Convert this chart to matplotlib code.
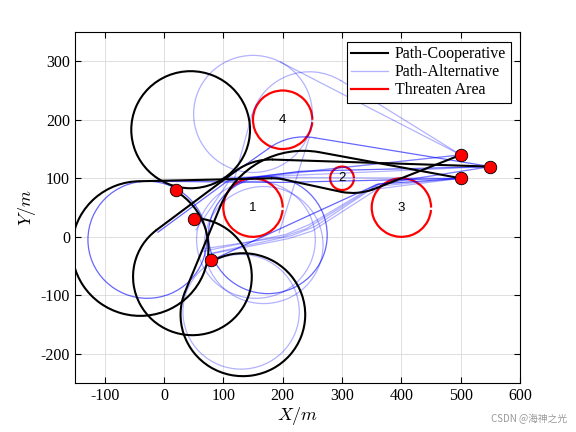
import numpy as np
import matplotlib
matplotlib.use("Agg")
import matplotlib.pyplot as plt
from matplotlib.patches import Arc
from matplotlib.lines import Line2D

plt.rcParams['font.family'] = ['Liberation Serif', 'DejaVu Serif']
plt.rcParams['mathtext.fontset'] = 'cm'
plt.rcParams['axes.unicode_minus'] = False

# threat areas
threat_x = [150, 300, 400, 200]
threat_y = [50, 100, 50, 200]
threat_r = [50, 20, 50, 50]
threat_id = ['1', '2', '3', '4']

# start / goal points
start_x = [20, 50, 80]
start_y = [80, 30, -40]
goal_x = [500, 550, 500]
goal_y = [140, 120, 100]

# cooperative paths: arcs (cx, cy, r, theta1, theta2) and lines (x0, y0, x1, y1)
coop_arcs = [
    (45, 183, 100, 0, 360),
    (-40, -20, 115, 90, 419.0),
    (182, 0, 100, 79, 91),
    (318, 175, 100, 259, 290),
    (48, -68, 100, 127, 450),
    (180.2, 32.1, 100, 88, 127),
    (133, -133, 105, 158, 479.7),
    (235, -3.7, 150.7, 80, 158),
]
coop_lines = [
    (-40, 95, 180.3, 100),
    (201.1, 98.2, 298.9, 76.8),
    (352.2, 81, 500, 140),
    (-12.2, 11.9, 120, 112),
    (183.7, 132, 550, 120),
    (35.6, -93.7, 95.3, 52.8),
    (261.2, 144.7, 500, 100),
]

# alternative paths
alt_circles = [(150, 210, 100), (130, -128, 98), (155, -5, 100), (168, -14, 100)]
alt_circles_dark = [(-28, -5, 100), (175, 3, 100)]
alt_arcs = [(245, 182, 100, 57.9, 165)]
alt_arcs_dark = [(236, 70.8, 100, 79, 127.6)]
alt_polys = [
    [(196.3, 298.6), (500, 140)],
    [(298, 267), (500, 140)],
    [(119, 100), (148, 208)],
    [(245, 170), (194, 7)],
    [(54, 12), (110, 96), (300, 118), (500, 140)],
    [(105, 100), (550, 120)],
    [(100, 102), (500, 100)],
    [(110, 98), (500, 140)],
    [(70, -20), (200, 0), (240, 14), (355, 86), (500, 100)],
    [(65, -25), (205, 4), (245, 21), (357, 89), (550, 120)],
    [(75, -30), (210, -3), (250, 10), (360, 82), (500, 100)],
    [(80, -28), (215, 2), (255, 18), (362, 90), (550, 120)],
]
alt_polys_dark = [
    [(-28, 95), (200, 93), (500, 100)],
    [(-10, 8), (108, 96), (230, 112), (550, 120)],
    [(105, 100), (175, 150)],
    [(255.1, 169), (550, 120)],
    [(80, -40), (312, 68), (360, 90), (500, 100)],
]

fig, ax = plt.subplots(figsize=(5.76, 4.32), dpi=100)
fig.subplots_adjust(left=0.13, right=0.903, bottom=0.113, top=0.926)

red = (1, 0, 0)
blue_l = (0, 0, 1, 0.3)
blue_d = (0, 0, 1, 0.6)

for x, y, r in zip(threat_x, threat_y, threat_r):
    ax.add_patch(Arc((x, y), 2 * r, 2 * r, theta1=0, theta2=355.2,
                     color=red, lw=1.6, zorder=2))
for x, y, t in zip(threat_x, threat_y, threat_id):
    ax.text(x, y, t, ha='center', va='center', fontsize=9.5,
            family='Liberation Sans', zorder=6)

for cx, cy, r in alt_circles:
    ax.add_patch(Arc((cx, cy), 2 * r, 2 * r, theta1=0, theta2=360,
                     color=blue_l, lw=0.9, zorder=3))
for cx, cy, r in alt_circles_dark:
    ax.add_patch(Arc((cx, cy), 2 * r, 2 * r, theta1=0, theta2=360,
                     color=blue_d, lw=0.9, zorder=3))
for cx, cy, r, t1, t2 in alt_arcs:
    ax.add_patch(Arc((cx, cy), 2 * r, 2 * r, theta1=t1, theta2=t2,
                     color=blue_l, lw=0.9, zorder=3))
for cx, cy, r, t1, t2 in alt_arcs_dark:
    ax.add_patch(Arc((cx, cy), 2 * r, 2 * r, theta1=t1, theta2=t2,
                     color=blue_d, lw=0.9, zorder=3))
for p in alt_polys:
    xs, ys = zip(*p)
    ax.plot(xs, ys, color=blue_l, lw=0.9, zorder=3)
for p in alt_polys_dark:
    xs, ys = zip(*p)
    ax.plot(xs, ys, color=blue_d, lw=0.9, zorder=3)

for cx, cy, r, t1, t2 in coop_arcs:
    ax.add_patch(Arc((cx, cy), 2 * r, 2 * r, theta1=t1, theta2=t2,
                     color='k', lw=1.5, zorder=4))
for x0, y0, x1, y1 in coop_lines:
    ax.plot([x0, x1], [y0, y1], color='k', lw=1.5, zorder=4)

ax.plot(start_x, start_y, 'o', ms=9, mfc='r', mec='k', mew=0.6, zorder=5)
ax.plot(goal_x, goal_y, 'o', ms=9, mfc='r', mec='k', mew=0.6, zorder=5)

ax.set_xlim(-150, 600)
ax.set_ylim(-250, 350)
ax.set_xticks(np.arange(-100, 601, 100))
ax.set_yticks(np.arange(-200, 301, 100))
ax.grid(True, color=(0.85, 0.85, 0.85), lw=0.6)
ax.set_axisbelow(True)
ax.tick_params(direction='in', labelsize=11.5, top=True, right=True, length=4)
for s in ax.spines.values():
    s.set_linewidth(0.8)
ax.set_xlabel('$X/m$', fontsize=13, labelpad=1)
ax.set_ylabel('$Y/m$', fontsize=13, labelpad=2)

handles = [Line2D([], [], color='k', lw=1.5),
           Line2D([], [], color=blue_l, lw=0.9),
           Line2D([], [], color=red, lw=1.6)]
leg = ax.legend(handles, ['Path-Cooperative', 'Path-Alternative', 'Threaten Area'],
                loc='upper right', fontsize=11.5, fancybox=False, framealpha=1,
                edgecolor='k', handlelength=2.3, borderpad=0.3, labelspacing=0.12,
                handletextpad=0.4, borderaxespad=0.6)
leg.get_frame().set_linewidth(0.8)

fig.text(0.985, 0.018, 'CSDN @海神之光', ha='right', va='bottom', fontsize=7,
         color=(0.6, 0.6, 0.6), family=['Noto Sans CJK SC', 'DejaVu Sans'])

fig.savefig('out.png', dpi=100)
